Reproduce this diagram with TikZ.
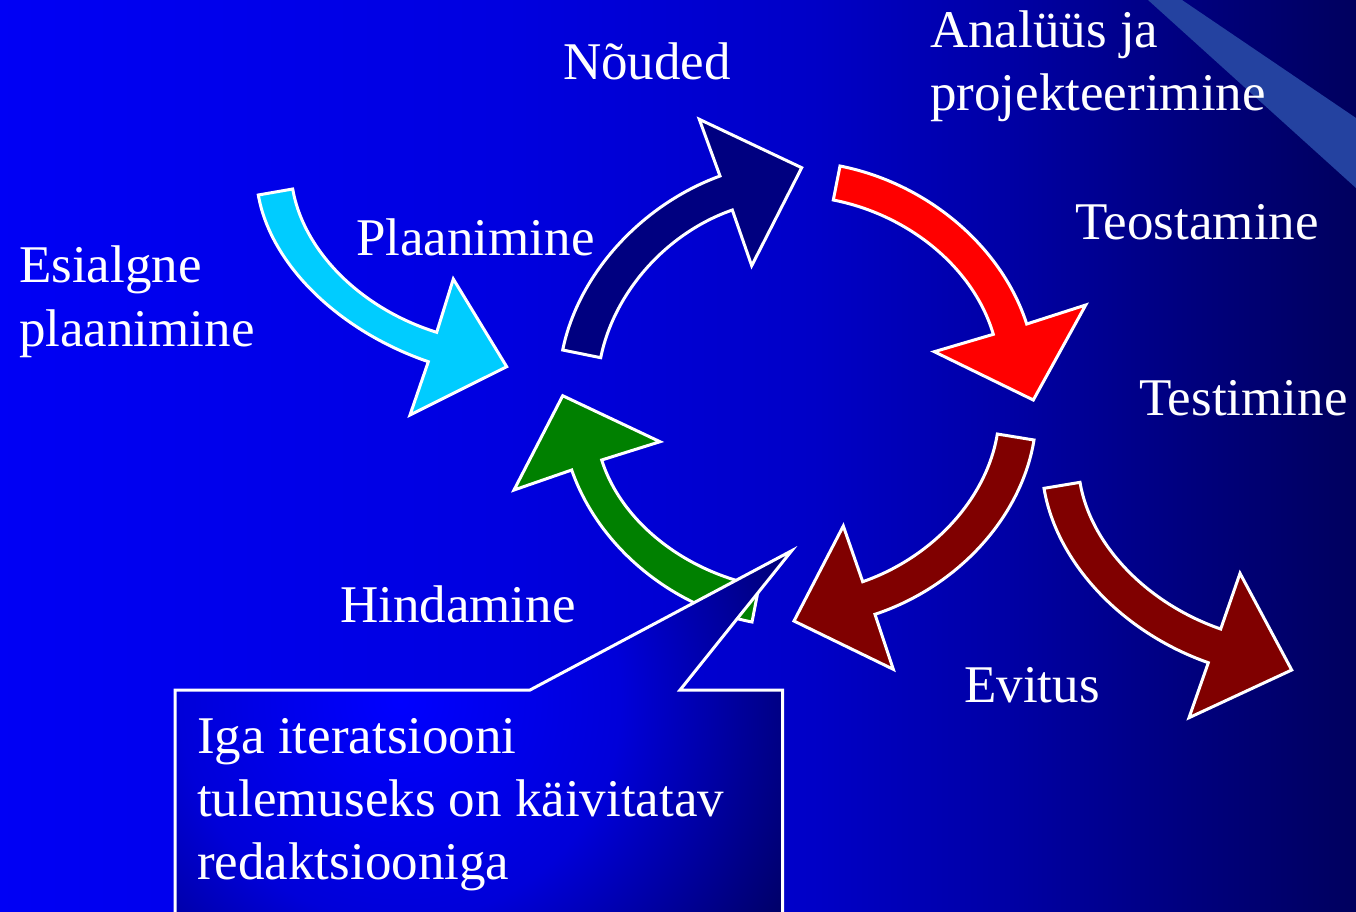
\documentclass[tikz,border=0pt]{standalone}
\usepackage{fontspec}
\setmainfont{Liberation Serif}
\usetikzlibrary{calc}

\definecolor{skyfill}{RGB}{0,204,255}
\definecolor{navyfill}{RGB}{0,0,128}
\definecolor{redfill}{RGB}{255,0,0}
\definecolor{maroonfill}{RGB}{128,0,0}
\definecolor{greenfill}{RGB}{0,128,0}
\definecolor{beamfill}{RGB}{36,66,160}

% slide background: bright blue on the left fading to navy on the right
\pgfdeclarehorizontalshading{slidebg}{100bp}{%
  rgb(0bp)=(0,0,0.96); rgb(25bp)=(0,0,0.96); rgb(43bp)=(0,0,0.88);
  rgb(55bp)=(0,0,0.78); rgb(62bp)=(0,0,0.65); rgb(69bp)=(0,0,0.49);
  rgb(75bp)=(0,0,0.37); rgb(100bp)=(0,0,0.37)}
% glow inside the callout box
\pgfdeclareradialshading{calloutglow}{\pgfpointorigin}{%
  rgb(0bp)=(0,0,1); rgb(12bp)=(0,0,0.85); rgb(25bp)=(0,0,0.36); rgb(50bp)=(0,0,0.36)}

\tikzset{
  band/.style={draw=white, line width=3pt, line join=miter},
  stagetext/.style={text=white, anchor=base west, inner sep=0pt,
    font=\fontsize{53pt}{63pt}\selectfont},
}

% curved block arrow
% #1 fill, #2 tail outer, #3 tail inner, #4 outer notch, #5 outer barb,
% #6 tip, #7 inner barb, #8 inner notch
\newcommand{\bentarrow}[8]{%
  \coordinate (tailout) at #2;
  \coordinate (tailin) at #3;
  \coordinate (notchout) at #4;
  \coordinate (barbout) at #5;
  \coordinate (tip) at #6;
  \coordinate (barbin) at #7;
  \coordinate (notchin) at #8;
  \coordinate (tanA) at ($(tailout)!1!90:(tailin)$);
  \coordinate (tanB) at ($(notchout)!1!90:(barbout)$);
  \coordinate (ctrlout) at (intersection of tailout--tanA and notchout--tanB);
  \coordinate (tanC) at ($(tailin)!1!90:(tailout)$);
  \coordinate (tanD) at ($(notchin)!1!90:(barbin)$);
  \coordinate (ctrlin) at (intersection of tailin--tanC and notchin--tanD);
  \draw[band, fill=#1]
    (tailout) .. controls ($(tailout)!0.6!(ctrlout)$) and ($(notchout)!0.6!(ctrlout)$) .. (notchout)
    -- (barbout) -- (tip) -- (barbin) -- (notchin)
    .. controls ($(notchin)!0.6!(ctrlin)$) and ($(tailin)!0.6!(ctrlin)$) .. (tailin)
    -- cycle;
}

\begin{document}
\begin{tikzpicture}[x=1pt, y=-1pt]
  \useasboundingbox (0,0) rectangle (1356,911);
  \shade[shading=slidebg] (0,0) rectangle (1356,911);

  % light beam in the upper right corner
  \fill[beamfill] (1148,0) -- (1182,0) -- (1356,118) -- (1356,188) -- cycle;

  % cycle arrows
  \bentarrow{skyfill}{(258.3,195)}{(292.7,189)}{(428.3,361.7)}{(410,415)}{(506.7,366.7)}{(453.3,279)}{(436.7,332.3)}
  \bentarrow{navyfill}{(562.7,350)}{(600.7,357.7)}{(720,176)}{(699.3,119.3)}{(801.7,167.7)}{(751.7,265.7)}{(732.3,210)}
  \bentarrow{redfill}{(840,166)}{(833.3,200)}{(1026.7,324)}{(1085.7,305)}{(1033.3,400)}{(934.3,351.7)}{(993.3,334.3)}
  \bentarrow{maroonfill}{(1034,440)}{(997.3,434)}{(875,614.3)}{(893.3,669.3)}{(794,621)}{(843.3,526)}{(862.7,581.7)}
  \bentarrow{maroonfill}{(1044,488.3)}{(1080,482.3)}{(1208.3,662.7)}{(1189,717.7)}{(1291.7,670)}{(1240,573.3)}{(1220.7,629)}
  \bentarrow{greenfill}{(752,622)}{(759,586)}{(571.7,470)}{(514,490)}{(562.7,395.7)}{(660,441.7)}{(601.7,460)}

  % callout box with its pointer
  \coordinate (cbl) at (175,930);
  \coordinate (ctl) at (175,690);
  \coordinate (cpa) at (530,690);
  \coordinate (cpt) at (791.7,550.7);
  \coordinate (cpb) at (680,690);
  \coordinate (ctr) at (782.5,690);
  \coordinate (cbr) at (782.5,930);
  \begin{scope}
    \clip (cbl) -- (ctl) -- (cpa) -- (cpt) -- (cpb) -- (ctr) -- (cbr) -- cycle;
    \shade[shading=calloutglow] (400,700) circle (460pt);
  \end{scope}
  \draw[white, line width=3pt, line join=miter]
    (cbl) -- (ctl) -- (cpa) -- (cpt) -- (cpb) -- (ctr) -- (cbr) -- cycle;

  % stage names
  \node[stagetext] (noud) at (563,79) {Nõuded};
  \node[stagetext] (anal1) at (930,47) {Analüüs ja};
  \node[stagetext] (anal2) at (930,110) {projekteerimine};
  \node[stagetext] (teos) at (1075,239) {Teostamine};
  \node[stagetext] (test) at (1139,415) {Testimine};
  \node[stagetext] (esia1) at (19,282) {Esialgne};
  \node[stagetext] (esia2) at (19,346) {plaanimine};
  \node[stagetext] (plaan) at (356,255) {Plaanimine};
  \node[stagetext] (hind) at (340,622) {Hindamine};
  \node[stagetext] (evit) at (964,702) {Evitus};

  % callout text
  \node[stagetext] (note1) at (197,753) {Iga iteratsiooni};
  \node[stagetext] (note2) at (197,816) {tulemuseks on käivitatav};
  \node[stagetext] (note3) at (197,879) {redaktsiooniga};
\end{tikzpicture}
\end{document}
